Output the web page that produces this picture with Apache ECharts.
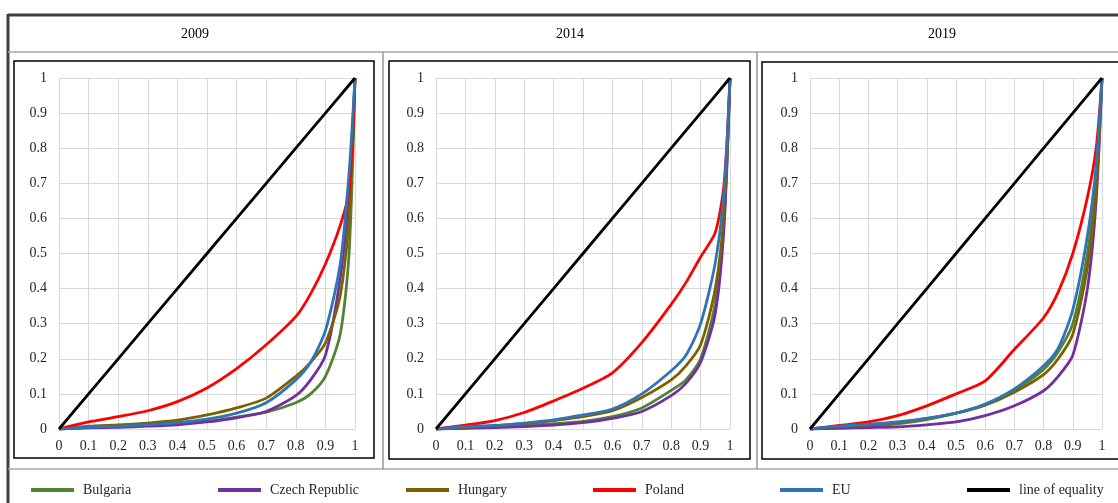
<!DOCTYPE html>
<html>
<head>
<meta charset="utf-8">
<script src="https://cdn.jsdelivr.net/npm/echarts@6/dist/echarts.min.js"></script>
<style>
html,body{margin:0;padding:0;background:#fff;}
#chart{width:1118px;height:503px;}
</style>
</head>
<body>
<div id="chart"></div>
<script>
// ---- data ----
var years = ['2009', '2014', '2019'];
var seriesNames = ['Bulgaria', 'Czech Republic', 'Hungary', 'Poland', 'EU', 'line of equality'];
var popShare = [0, 0.1, 0.2, 0.3, 0.4, 0.5, 0.6, 0.7, 0.8, 0.85, 0.9, 0.95, 0.98, 1];

var bulgaria2009 = [0, 0.005, 0.008, 0.011, 0.015, 0.022, 0.034, 0.048, 0.075, 0.1, 0.15, 0.27, 0.5, 1];
var czech2009    = [0, 0.003, 0.005, 0.008, 0.012, 0.02, 0.032, 0.05, 0.095, 0.14, 0.21, 0.43, 0.68, 1];
var hungary2009  = [0, 0.008, 0.012, 0.017, 0.025, 0.04, 0.06, 0.088, 0.15, 0.19, 0.245, 0.38, 0.6, 1];
var poland2009   = [0, 0.02, 0.035, 0.052, 0.078, 0.117, 0.172, 0.24, 0.32, 0.385, 0.47, 0.58, 0.68, 1];
var eu2009       = [0, 0.005, 0.008, 0.012, 0.018, 0.028, 0.045, 0.075, 0.14, 0.19, 0.28, 0.47, 0.73, 1];

var bulgaria2014 = [0, 0.003, 0.006, 0.01, 0.015, 0.022, 0.035, 0.06, 0.11, 0.14, 0.2, 0.36, 0.6, 1];
var czech2014    = [0, 0.002, 0.004, 0.007, 0.011, 0.018, 0.03, 0.05, 0.095, 0.13, 0.19, 0.33, 0.58, 1];
var hungary2014  = [0, 0.005, 0.009, 0.015, 0.024, 0.035, 0.052, 0.09, 0.14, 0.18, 0.24, 0.4, 0.62, 1];
var poland2014   = [0, 0.011, 0.024, 0.047, 0.08, 0.116, 0.16, 0.246, 0.355, 0.417, 0.49, 0.56, 0.7, 1];
var eu2014       = [0, 0.007, 0.01, 0.017, 0.026, 0.04, 0.057, 0.1, 0.166, 0.21, 0.3, 0.474, 0.68, 1];

var bulgaria2019 = [0, 0.005, 0.009, 0.015, 0.027, 0.045, 0.07, 0.11, 0.17, 0.22, 0.3, 0.5, 0.72, 1];
var czech2019    = [0, 0.002, 0.004, 0.006, 0.012, 0.02, 0.038, 0.066, 0.109, 0.15, 0.21, 0.4, 0.65, 1];
var hungary2019  = [0, 0.007, 0.012, 0.018, 0.03, 0.045, 0.068, 0.105, 0.155, 0.2, 0.27, 0.46, 0.68, 1];
var poland2019   = [0, 0.01, 0.02, 0.038, 0.066, 0.1, 0.137, 0.227, 0.317, 0.39, 0.5, 0.66, 0.8, 1];
var eu2019       = [0, 0.008, 0.013, 0.02, 0.03, 0.045, 0.071, 0.114, 0.18, 0.23, 0.34, 0.55, 0.75, 1];

var equality     = [0, 0.1, 0.2, 0.3, 0.4, 0.5, 0.6, 0.7, 0.8, 0.85, 0.9, 0.95, 0.98, 1];

var panelData = [
  [bulgaria2009, czech2009, hungary2009, poland2009, eu2009, equality],
  [bulgaria2014, czech2014, hungary2014, poland2014, eu2014, equality],
  [bulgaria2019, czech2019, hungary2019, poland2019, eu2019, equality]
];

// ---- styles ----
var colors = ['#548235', '#7030a0', '#7f6000', '#ff0000', '#2e75b6', '#000000'];
var FONT = '"Liberation Serif", "Times New Roman", serif';
var gridPos = [
  {left: 59, width: 296},
  {left: 436, width: 294},
  {left: 810, width: 292}
];
var legendLeft = [31, 218, 406, 593, 780, 967];

var grids = [], xAxes = [], yAxes = [], series = [];
gridPos.forEach(function (g, i) {
  grids.push({left: g.left, width: g.width, top: 78, height: 351, containLabel: false});
  xAxes.push({
    type: 'value', gridIndex: i, min: 0, max: 1, interval: 0.1,
    axisLine: {show: false}, axisTick: {show: false},
    splitLine: {show: true, lineStyle: {color: '#d9d9d9', width: 1}},
    axisLabel: {fontFamily: FONT, fontSize: 14, color: '#262626', margin: 10}
  });
  yAxes.push({
    type: 'value', gridIndex: i, min: 0, max: 1, interval: 0.1,
    axisLine: {show: false}, axisTick: {show: false},
    splitLine: {show: true, lineStyle: {color: '#d9d9d9', width: 1}},
    axisLabel: {fontFamily: FONT, fontSize: 14, color: '#262626', margin: 12}
  });
  panelData[i].forEach(function (vals, s) {
    series.push({
      name: seriesNames[s], type: 'line', xAxisIndex: i, yAxisIndex: i,
      data: popShare.map(function (x, k) { return [x, vals[k]]; }),
      showSymbol: false, symbol: 'none',
      smooth: s === 5 ? false : 0.25,
      lineStyle: {color: colors[s], width: 2.8},
      itemStyle: {color: colors[s]},
      silent: true, animation: false
    });
  });
});

var legends = seriesNames.map(function (n, i) {
  return {
    data: [n], left: legendLeft[i], top: 483, padding: 0,
    icon: 'rect', itemWidth: 43, itemHeight: 4,
    textStyle: {fontFamily: FONT, fontSize: 14, color: '#262626', padding: [0, 0, 0, 4]}
  };
});

var graphics = [
  {type: 'line', shape: {x1: 8, y1: 15, x2: 1130, y2: 15}, style: {stroke: '#404040', lineWidth: 3}},
  {type: 'line', shape: {x1: 8, y1: 14, x2: 8, y2: 510}, style: {stroke: '#404040', lineWidth: 3}},
  {type: 'line', shape: {x1: 8, y1: 52, x2: 1130, y2: 52}, style: {stroke: '#a6a6a6', lineWidth: 1.5}},
  {type: 'line', shape: {x1: 8, y1: 469, x2: 1130, y2: 469}, style: {stroke: '#a6a6a6', lineWidth: 1.5}},
  {type: 'line', shape: {x1: 383, y1: 52, x2: 383, y2: 469}, style: {stroke: '#808080', lineWidth: 1.2}},
  {type: 'line', shape: {x1: 757, y1: 52, x2: 757, y2: 469}, style: {stroke: '#808080', lineWidth: 1.2}},
  {type: 'rect', shape: {x: 14, y: 61, width: 360, height: 397}, style: {fill: 'none', stroke: '#000', lineWidth: 1.5}},
  {type: 'rect', shape: {x: 389, y: 61, width: 361, height: 398}, style: {fill: 'none', stroke: '#000', lineWidth: 1.5}},
  {type: 'rect', shape: {x: 762, y: 62, width: 370, height: 397}, style: {fill: 'none', stroke: '#000', lineWidth: 1.5}}
];
var titleX = [195, 570, 942];
years.forEach(function (y, i) {
  graphics.push({
    type: 'text', x: titleX[i], y: 34,
    style: {text: y, align: 'center', verticalAlign: 'middle', fontFamily: FONT, fontSize: 14, fill: '#000'}
  });
});

var chart = echarts.init(document.getElementById('chart'), null, {renderer: 'canvas'});
chart.setOption({
  animation: false,
  backgroundColor: '#fff',
  grid: grids, xAxis: xAxes, yAxis: yAxes,
  legend: legends,
  graphic: graphics,
  series: series
});
</script>
</body>
</html>
